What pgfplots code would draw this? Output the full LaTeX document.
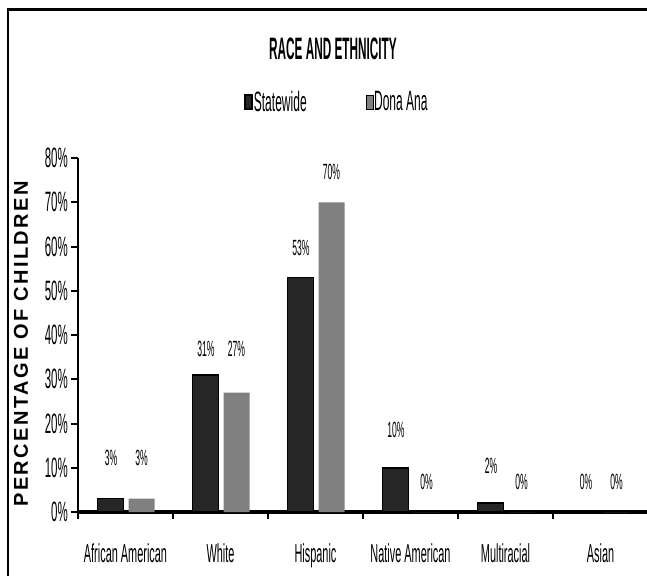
\documentclass[border=0pt]{standalone}
\usepackage{fontspec}
\setmainfont{Liberation Sans}[FakeStretch=0.41]
\newfontfamily\catfont{Liberation Sans}[FakeStretch=0.42]
\newfontfamily\valfont{Liberation Sans}[FakeStretch=0.39]
\newfontfamily\titlefont{Liberation Sans}[FakeStretch=0.38]
\newfontfamily\legfont{Liberation Sans}[FakeStretch=0.43]
\newfontfamily\ylabfont{Liberation Sans}[LetterSpace=12]
\usepackage{pgfplots}
\pgfplotsset{compat=1.18}
\definecolor{state}{HTML}{262626}
\definecolor{dona}{HTML}{808080}
\begin{document}
\begin{tikzpicture}
\begin{axis}[
  at={(0,0)}, anchor=south west,
  scale only axis, width=570bp, height=354bp,
  xmin=-0.5, xmax=5.5, ymin=0, ymax=80,
  axis x line=bottom, axis y line=left,
  axis line style={-, line width=2bp},
  x axis line style={line width=3bp},
  tick align=outside, major tick length=7bp,
  tick style={black, line width=2bp},
  ytick={0,10,...,80},
  yticklabel={\pgfmathprintnumber{\tick}\%},
  /pgf/number format/assume math mode=true,
  yticklabel style={font=\fontsize{28bp}{30bp}\selectfont, inner xsep=3bp},
  xticklabel style={font=\catfont\fontsize{26bp}{28bp}\selectfont},
  xtick={-0.5,0.5,...,5.5}, xticklabels={},
  extra x ticks={0,1,2,3,4,5},
  extra x tick labels={African American, White, Hispanic, Native American, Multiracial, Asian},
  extra x tick style={major tick length=0pt, tick style={draw=none}, xticklabel style={yshift=-28bp}},
  clip=false,
  legend columns=2,
  legend style={draw=none, fill=none, at={(axis description cs:0.4535,1.158)}, anchor=center,
    font=\legfont\fontsize{28bp}{30bp}\selectfont,
    /tikz/every odd column/.append style={column sep=0bp},
    /tikz/every even column/.append style={column sep=58bp},
    nodes={inner xsep=1bp}},
  legend image code/.code={\draw[#1] (0bp,-7bp) rectangle (7bp,7bp);},
]
\addplot[ybar, bar width=26bp, bar shift=-15bp, fill=state, draw=black, line width=1.5bp]
  coordinates {(0,3) (1,31) (2,53) (3,10) (4,2) (5,0)};
\addlegendentry{Statewide}
\addplot[ybar, bar width=26bp, bar shift=16bp, fill=dona, draw=none]
  coordinates {(0,3) (1,27) (2,70) (3,0) (4,0) (5,0)};
\addlegendentry{Dona Ana}
\addplot[forget plot, only marks, mark=none, point meta=explicit symbolic,
  nodes near coords={\pgfplotspointmeta\%},
  nodes near coords style={anchor=center, font=\valfont\fontsize{22bp}{24bp}\selectfont}]
  coordinates {(-0.153,12.2) [3] (0.847,36.8) [31] (1.847,59.7) [53] (2.847,18.5) [10] (3.847,10.4) [2] (4.847,6.8) [0]};
\addplot[forget plot, only marks, mark=none, point meta=explicit symbolic,
  nodes near coords={\pgfplotspointmeta\%},
  nodes near coords style={anchor=center, font=\valfont\fontsize{22bp}{24bp}\selectfont}]
  coordinates {(0.168,12.2) [3] (1.168,36.8) [27] (2.168,76.8) [70] (3.168,6.8) [0] (4.168,6.8) [0] (5.168,6.8) [0]};
\end{axis}
\node[font=\titlefont\bfseries\fontsize{31bp}{33bp}\selectfont] at (255bp,463bp) {RACE AND ETHNICITY};
\node[rotate=90, font=\ylabfont\bfseries\fontsize{20bp}{22bp}\selectfont] at (-57bp,168bp) {PERCENTAGE OF CHILDREN};
\draw[line width=3bp] (-70bp,502bp) -- (580bp,502bp);
\draw[line width=1.2bp] (-70bp,503.5bp) -- (-70bp,-80bp);
\pgfresetboundingbox
\useasboundingbox (-78bp,-64bp) rectangle (569bp,512bp);
\end{tikzpicture}
\end{document}
